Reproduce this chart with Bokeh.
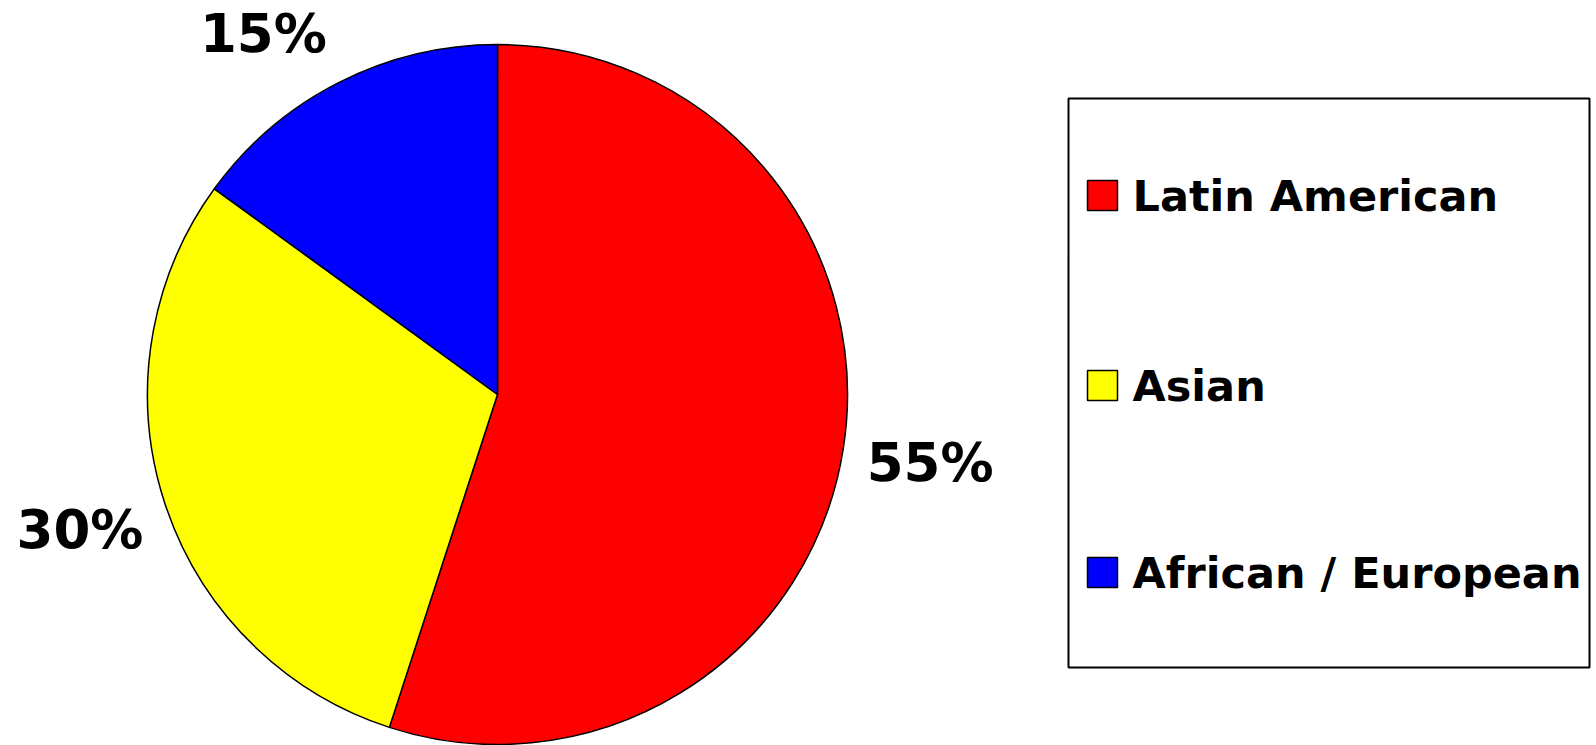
import math
from bokeh.plotting import figure
from bokeh.models import Range1d, ColumnDataSource
from bokeh.core.properties import value
from bokeh.embed import file_html
from bokeh.resources import INLINE

# ---- data ----
categories = ["Latin American", "Asian", "African / European"]
shares = [55, 30, 15]
colors = ["#FF0000", "#FFFF00", "#0000FF"]

# ---- layout (page pixel coordinates; y converted below) ----
W, H = 1596, 745
def Y(py):
    return H - py

cx, cy, R = 497, Y(394), 350
FONT = "DejaVu Sans"
BASE_FIX = 0.35  # em shift so that the requested baseline lands where wanted

p = figure(width=W, height=H, output_backend="svg", toolbar_location=None,
           x_range=Range1d(0, W), y_range=Range1d(0, H),
           min_border=0, outline_line_color=None)
p.axis.visible = False
p.grid.visible = False
p.background_fill_color = "white"
p.border_fill_color = "white"

total = float(sum(shares))
starts, ends, mids = [], [], []
cum = 0.0
for s in shares:
    a_hi = 90 - cum / total * 360
    cum += s
    a_lo = 90 - cum / total * 360
    starts.append(math.radians(a_lo))
    ends.append(math.radians(a_hi))
    mids.append((a_lo + a_hi) / 2)

src = ColumnDataSource(dict(cat=categories, val=shares, color=colors,
                            start=starts, end=ends))
p.wedge(x=cx, y=cy, radius=R, start_angle="start", end_angle="end",
        direction="anticlock", fill_color="color", line_color="black",
        line_width=1.5, source=src)

# percentage labels placed along each slice's mid-angle
LBL = 53
label_r = [438, 439, 430]
label_nudge = [0, 0, 6]
lx, ly, lt = [], [], []
for s, m, r, n in zip(shares, mids, label_r, label_nudge):
    a = math.radians(m + n)
    lx.append(cx + r * math.cos(a))
    ly.append(cy + r * math.sin(a) - 18 + BASE_FIX * LBL)
    lt.append(f"{s}%")
p.text(x=lx, y=ly, text=lt, text_align="center", text_baseline="alphabetic",
       text_font=value(FONT), text_font_style="bold", text_font_size=f"{LBL}px",
       text_color="black")

# legend box
LEG = 43
p.quad(left=1068, right=1589, top=Y(98), bottom=Y(667), fill_color="white",
       line_color="black", line_width=2)
row_py = [195, 385, 572]
sq = 30
p.rect(x=[1102] * 3, y=[Y(v) for v in row_py], width=sq, height=sq,
       fill_color=colors, line_color="black", line_width=1.5)
p.text(x=[1132] * 3, y=[Y(v + 16) + BASE_FIX * LEG for v in row_py], text=categories,
       text_align="left", text_baseline="alphabetic", text_font=value(FONT),
       text_font_style="bold", text_font_size=f"{LEG}px", text_color="black")

open("out.html", "w").write(file_html(p, INLINE))
